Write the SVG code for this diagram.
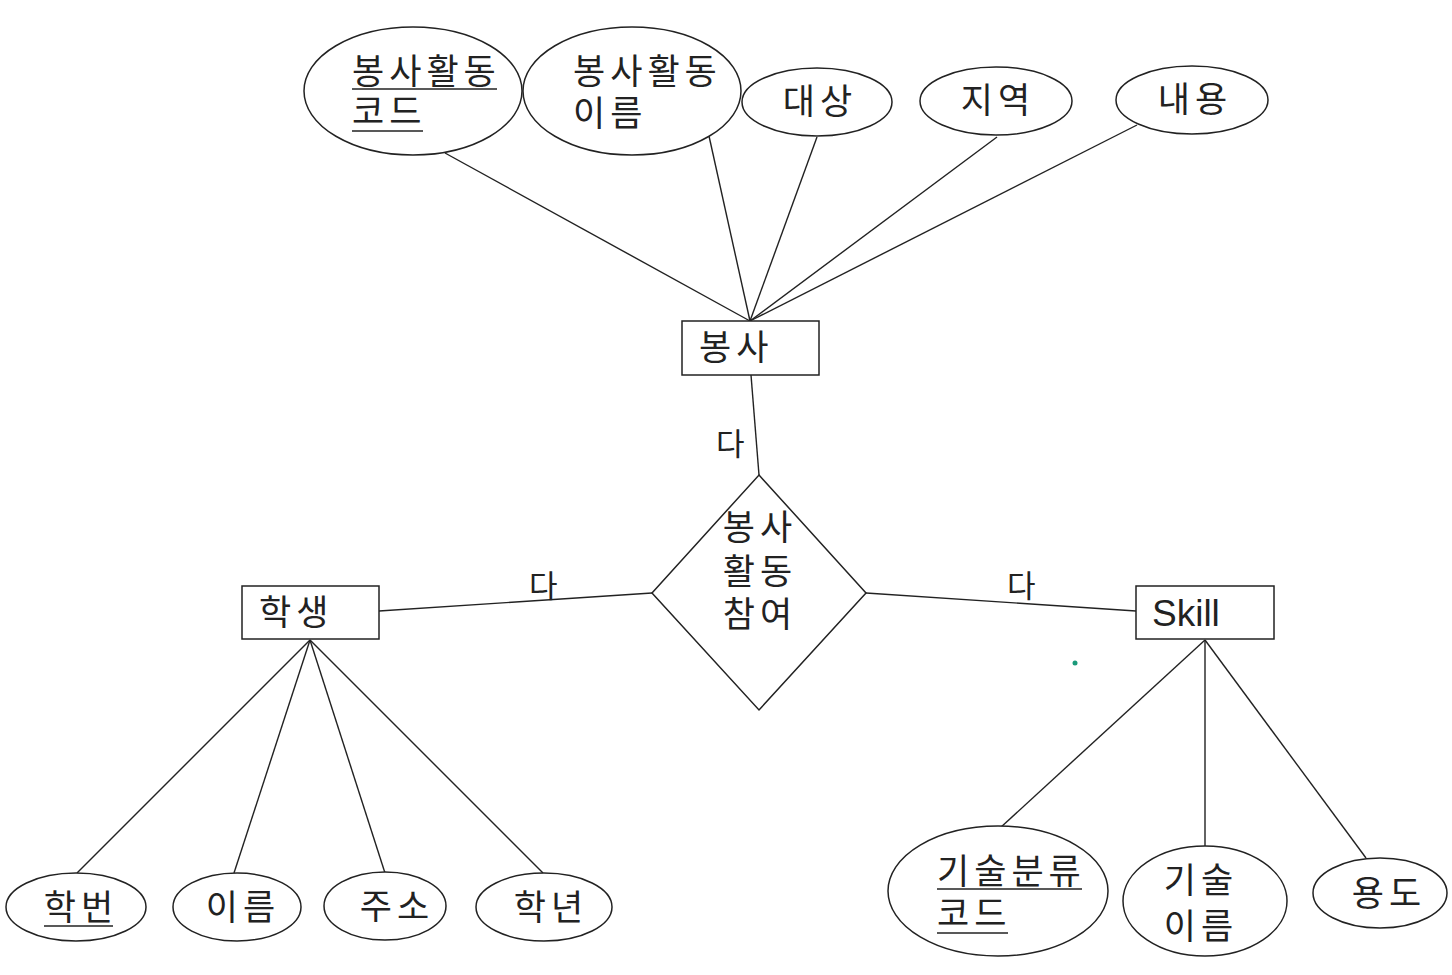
<svg xmlns="http://www.w3.org/2000/svg" width="1452" height="975" viewBox="0 0 1452 975">
<style>
.s{fill:#fff;stroke:#222;stroke-width:1.5}
.c{stroke:#222;stroke-width:1.4;fill:none}
.t{font-family:"Noto Sans CJK KR","Noto Sans",sans-serif;font-size:35px;letter-spacing:5px;fill:#222}
.m{text-anchor:middle}
.lab{font-family:"Noto Sans CJK KR",sans-serif;font-size:31px;fill:#222}
.sk{font-family:"Liberation Sans",Arial,sans-serif;font-size:37px;fill:#222}
.u{stroke:#222;stroke-width:1.5}
</style>
<rect width="1452" height="975" fill="#fff"/>
<g id="connectors">
<line class="c" x1="445" y1="153" x2="750" y2="321"/>
<line class="c" x1="709" y1="136" x2="750" y2="321"/>
<line class="c" x1="817" y1="137" x2="750" y2="321"/>
<line class="c" x1="997" y1="137" x2="750" y2="321"/>
<line class="c" x1="1137" y1="125" x2="750" y2="321"/>
<line class="c" x1="751" y1="375" x2="759" y2="475"/>
<line class="c" x1="379" y1="611" x2="652" y2="593"/>
<line class="c" x1="866" y1="593" x2="1136" y2="611"/>
<line class="c" x1="310" y1="640" x2="77" y2="873"/>
<line class="c" x1="310" y1="640" x2="234" y2="873"/>
<line class="c" x1="310" y1="640" x2="385" y2="873"/>
<line class="c" x1="310" y1="640" x2="543" y2="873"/>
<line class="c" x1="1205" y1="640" x2="1000" y2="828"/>
<line class="c" x1="1205" y1="640" x2="1205" y2="846"/>
<line class="c" x1="1205" y1="640" x2="1366" y2="858"/>
<text class="lab" x="716" y="455">다</text>
<text class="lab" x="529" y="597">다</text>
<text class="lab" x="1007" y="597">다</text>
</g>
<g id="attr-code">
<ellipse class="s" cx="413" cy="91" rx="109" ry="64"/>
<text class="t" x="352" y="84">봉사활동</text>
<text class="t" x="352" y="124">코드</text>
<line class="u" x1="352" y1="89" x2="497" y2="89"/>
<line class="u" x1="352" y1="131" x2="423" y2="131"/>
</g>
<g id="attr-name">
<ellipse class="s" cx="632" cy="91" rx="109" ry="64"/>
<text class="t" x="573" y="84">봉사활동</text>
<text class="t" x="573" y="126">이름</text>
</g>
<g id="attr-target">
<ellipse class="s" cx="817" cy="102" rx="75" ry="34"/>
<text class="t m" x="820" y="114">대상</text>
</g>
<g id="attr-region">
<ellipse class="s" cx="996" cy="101" rx="76" ry="34"/>
<text class="t m" x="998" y="113">지역</text>
</g>
<g id="attr-content">
<ellipse class="s" cx="1192" cy="100" rx="76" ry="34"/>
<text class="t m" x="1195" y="112">내용</text>
</g>
<g id="entity-volunteer">
<rect class="s" x="682" y="321" width="137" height="54"/>
<text class="t" x="699" y="360">봉사</text>
</g>
<g id="rel-participate">
<polygon class="s" points="759,475 866,593 759,710 652,593"/>
<text class="t m" x="760" y="540">봉사</text>
<text class="t m" x="760" y="584">활동</text>
<text class="t m" x="760" y="627">참여</text>
</g>
<g id="entity-student">
<rect class="s" x="242" y="586" width="137" height="53"/>
<text class="t" x="259" y="625">학생</text>
</g>
<g id="entity-skill">
<rect class="s" x="1136" y="586" width="138" height="53"/>
<text class="sk" x="1152" y="626">Skill</text>
</g>
<circle cx="1075" cy="663" r="2.5" fill="#1a9a7a"/>
<g id="attr-sid">
<ellipse class="s" cx="76" cy="907" rx="70" ry="34"/>
<text class="t m" x="81" y="920">학번</text>
<line class="u" x1="44" y1="926" x2="113" y2="926"/>
</g>
<g id="attr-sname">
<ellipse class="s" cx="237" cy="907" rx="64" ry="34"/>
<text class="t m" x="243" y="920">이름</text>
</g>
<g id="attr-addr">
<ellipse class="s" cx="385" cy="906" rx="61" ry="34"/>
<text class="t m" x="397" y="919">주소</text>
</g>
<g id="attr-grade">
<ellipse class="s" cx="544" cy="907" rx="68" ry="34"/>
<text class="t m" x="551" y="920">학년</text>
</g>
<g id="attr-skillcode">
<ellipse class="s" cx="998" cy="891" rx="110" ry="65"/>
<text class="t" x="937" y="884">기술분류</text>
<text class="t" x="937" y="926">코드</text>
<line class="u" x1="937" y1="889" x2="1082" y2="889"/>
<line class="u" x1="937" y1="933" x2="1008" y2="933"/>
</g>
<g id="attr-skillname">
<ellipse class="s" cx="1205" cy="901" rx="82" ry="55"/>
<text class="t m" x="1201" y="893">기술</text>
<text class="t m" x="1201" y="939">이름</text>
</g>
<g id="attr-use">
<ellipse class="s" cx="1380" cy="893" rx="67" ry="35"/>
<text class="t m" x="1389" y="906">용도</text>
</g>
</svg>
